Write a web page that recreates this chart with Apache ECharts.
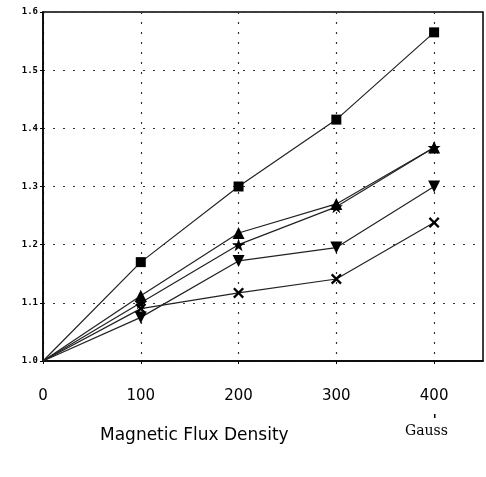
<!DOCTYPE html>
<html>
<head>
<meta charset="utf-8">
<script src="https://cdn.jsdelivr.net/npm/echarts@6/dist/echarts.min.js"></script>
<style>
  html, body { margin: 0; padding: 0; background: #fff; }
  #chart { width: 486px; height: 477px; }
</style>
</head>
<body>
<div id="chart"></div>
<script>
// readings
const fluxGauss = [0, 100, 200, 300, 400];
const yTicks = [1.0, 1.1, 1.2, 1.3, 1.4, 1.5, 1.6];
const squareVals = [1.0, 1.17, 1.30, 1.415, 1.565];
const starVals = [1.0, 1.10, 1.20, 1.265, 1.367];
const triUpVals = [1.0, 1.112, 1.22, 1.27, 1.367];
const triDownVals = [1.0, 1.075, 1.172, 1.195, 1.30];
const crossVals = [1.0, 1.09, 1.117, 1.141, 1.238];

const starPath = 'path://M50,0 L61,35 L98,35 L68,57 L79,91 L50,70 L21,91 L32,57 L2,35 L39,35 Z';
const crossPath = 'path://M0,15 L15,0 L50,35 L85,0 L100,15 L65,50 L100,85 L85,100 L50,65 L15,100 L0,85 L35,50 Z';

function pairs(vals) {
  return fluxGauss.map((x, i) => [x, vals[i]]);
}

function mkSeries(name, vals, symbol, size, rotate) {
  return {
    name: name,
    type: 'line',
    data: pairs(vals),
    symbol: symbol,
    // no marker at the origin, the lines just meet there
    symbolSize: v => (v[0] === 0 ? 0 : size),
    symbolRotate: rotate || 0,
    showSymbol: true,
    lineStyle: { color: '#222', width: 1.2 },
    itemStyle: { color: '#000' },
    emphasis: { disabled: true }
  };
}

let chart = echarts.init(document.getElementById('chart'));
let option = {
  animation: false,
  backgroundColor: '#fff',
  grid: {
    left: 43, right: 3, top: 12, bottom: 116,
    show: true, borderColor: '#000', borderWidth: 1.5
  },
  xAxis: {
    type: 'value',
    min: 0, max: 450, interval: 100,
    axisLine: { show: true, lineStyle: { color: '#000', width: 1.5 } },
    axisTick: { show: true, length: 3, customValues: fluxGauss, lineStyle: { color: '#000' } },
    axisLabel: {
      margin: 28,
      color: '#000',
      fontSize: 15,
      fontFamily: 'DejaVu Sans',
      customValues: fluxGauss,
      formatter: v => String(v)
    },
    splitLine: { show: true, lineStyle: { color: '#333', type: [2, 8], width: 1.2 } }
  },
  yAxis: {
    type: 'value',
    min: yTicks[0], max: yTicks[yTicks.length - 1], interval: 0.1,
    axisLine: { show: true, lineStyle: { color: '#000', width: 1.5 } },
    axisTick: { show: true, length: 3, lineStyle: { color: '#000' } },
    axisLabel: {
      margin: 5,
      color: '#000',
      fontSize: 9,
      fontWeight: 'bold',
      fontFamily: 'DejaVu Sans Mono',
      formatter: v => v.toFixed(1)
    },
    splitLine: { show: true, lineStyle: { color: '#333', type: [2, 8], width: 1.2 } }
  },
  series: [
    mkSeries('square', squareVals, 'rect', 10),
    mkSeries('star', starVals, starPath, 13),
    mkSeries('triUp', triUpVals, 'triangle', 12),
    mkSeries('triDown', triDownVals, 'triangle', 12, 180),
    mkSeries('cross', crossVals, crossPath, 11)
  ],
  graphic: [
    {
      type: 'text', left: 100, top: 427,
      style: { text: 'Magnetic Flux Density', fontSize: 17, fontFamily: 'DejaVu Sans', fill: '#000' }
    },
    {
      type: 'text', left: 405, top: 424,
      style: { text: 'Gauss', fontSize: 14, fontFamily: 'DejaVu Serif', fill: '#000' }
    },
    {
      type: 'rect', left: 434, top: 414,
      shape: { width: 1.5, height: 4 }, style: { fill: '#000' }
    }
  ]
};
chart.setOption(option);
</script>
</body>
</html>
